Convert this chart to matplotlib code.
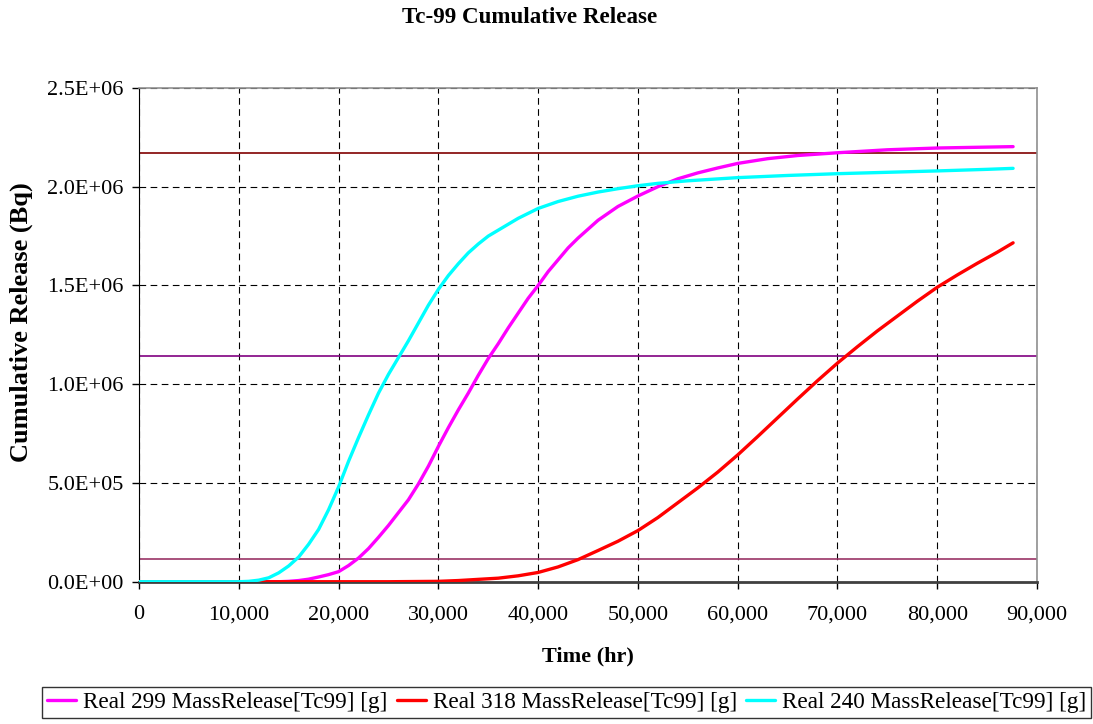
import matplotlib.pyplot as plt
from matplotlib.ticker import FuncFormatter, MultipleLocator

plt.rcParams['font.family'] = ['Liberation Serif', 'DejaVu Serif']

# Real 240 (cyan)
t_240 = [0, 10000, 11000, 12000, 13000, 14000, 15000, 16000, 17000, 18000,
         19000, 20000, 21000, 22000, 23000, 24000, 25000, 26000, 27000, 28000,
         29000, 30000, 31000, 32000, 33000, 34000, 35000, 36000, 38000, 40000,
         42000, 44000, 46000, 48000, 50000, 52000, 55000, 60000, 65000, 70000,
         75000, 80000, 85000, 87600]
r_240 = [0, 0, 0.002, 0.008, 0.02, 0.045, 0.08, 0.125, 0.19, 0.265,
         0.365, 0.48, 0.61, 0.73, 0.845, 0.955, 1.05, 1.135, 1.22, 1.31,
         1.40, 1.48, 1.55, 1.61, 1.665, 1.71, 1.75, 1.78, 1.84, 1.89,
         1.925, 1.952, 1.973, 1.99, 2.005, 2.017, 2.03, 2.046, 2.057, 2.066,
         2.073, 2.08, 2.088, 2.093]

# Real 299 (magenta)
t_299 = [0, 14000, 15000, 16000, 17000, 18000, 19000, 20000, 21000, 22000,
         23000, 24000, 25000, 26000, 27000, 28000, 29000, 30000, 31000, 32000,
         33000, 34000, 35000, 36000, 37000, 38000, 39000, 40000, 41000, 42000,
         43000, 44000, 46000, 48000, 50000, 52000, 54000, 56000, 58000, 60000,
         63000, 66000, 70000, 75000, 80000, 87600]
r_299 = [0, 0, 0.002, 0.006, 0.013, 0.024, 0.036, 0.051, 0.082, 0.12,
         0.168, 0.225, 0.285, 0.35, 0.415, 0.495, 0.585, 0.685, 0.78, 0.87,
         0.955, 1.045, 1.13, 1.205, 1.285, 1.36, 1.435, 1.50, 1.57, 1.63,
         1.69, 1.74, 1.83, 1.90, 1.953, 2.00, 2.04, 2.07, 2.095, 2.118,
         2.142, 2.158, 2.172, 2.187, 2.196, 2.203]

# Real 318 (red)
t_318 = [0, 25000, 30000, 32000, 34000, 36000, 38000, 40000, 42000, 44000,
         46000, 48000, 50000, 52000, 54000, 56000, 58000, 60000, 62000, 64000,
         66000, 68000, 70000, 72000, 74000, 76000, 78000, 80000, 82000, 84000,
         86000, 87600]
r_318 = [0, 0, 0.002, 0.006, 0.012, 0.018, 0.03, 0.047, 0.075, 0.112,
         0.158, 0.205, 0.259, 0.325, 0.4, 0.475, 0.555, 0.642, 0.735, 0.83,
         0.925, 1.018, 1.107, 1.19, 1.27, 1.345, 1.42, 1.491, 1.553, 1.612,
         1.668, 1.716]

# reference levels (millions of Bq)
ref_levels = [2.172, 1.141, 0.1135]
ref_colors = ['#800000', '#800080', '#993366']

series = [
    ('Real 299 MassRelease[Tc99] [g]', t_299, r_299, '#FF00FF'),
    ('Real 318 MassRelease[Tc99] [g]', t_318, r_318, '#FF0000'),
    ('Real 240 MassRelease[Tc99] [g]', t_240, r_240, '#00FFFF'),
]

fig = plt.figure(figsize=(10.93, 7.24), dpi=100)
ax = fig.add_axes([0.1272, 0.1965, 0.8216, 0.682])

for lvl, clr in zip(ref_levels, ref_colors):
    ax.axhline(lvl * 1e6, color=clr, lw=1.2, zorder=2)

for label, t, r, clr in series:
    ax.plot(t, [v * 1e6 for v in r], color=clr, lw=2.4, label=label,
            solid_capstyle='round', solid_joinstyle='round', zorder=3)

ax.set_xlim(0, 90000)
ax.set_ylim(0, 2.5e6)
ax.xaxis.set_major_locator(MultipleLocator(10000))
ax.yaxis.set_major_locator(MultipleLocator(5e5))
ax.xaxis.set_major_formatter(FuncFormatter(lambda v, p: f"{v:,.0f}"))
ax.yaxis.set_major_formatter(FuncFormatter(lambda v, p: f"{v:.1E}"))
ax.tick_params(labelsize=16, direction='out', length=5, width=1)
ax.tick_params(axis='x', pad=12)
ax.tick_params(axis='y', pad=6)
ax.grid(True, color='black', lw=0.8, linestyle=(0, (6, 4)), zorder=1)

ax.spines['left'].set_color('black')
ax.spines['bottom'].set_color('#404040')
ax.spines['bottom'].set_linewidth(2)
for s in ('top', 'right'):
    ax.spines[s].set_color('#909090')
    ax.spines[s].set_linewidth(1.2)

ax.set_xlabel('Time (hr)', fontsize=16, fontweight='bold')
ax.xaxis.set_label_coords(0.4995, -0.131)
ax.set_ylabel('Cumulative Release (Bq)', fontsize=19, fontweight='bold')
ax.yaxis.set_label_coords(-0.118, 0.526)
fig.suptitle('Tc-99 Cumulative Release', fontsize=16.6, fontweight='bold',
             x=0.485, y=0.99)

leg = fig.legend(loc='center', bbox_to_anchor=(0.5185, 0.03), ncol=3,
                 fontsize=16.7, frameon=True, fancybox=False, edgecolor='black',
                 handlelength=1.25, handletextpad=0.3, columnspacing=0.4,
                 borderpad=0.2, borderaxespad=0)
leg.get_frame().set_linewidth(1)

fig.savefig('out.png', dpi=100)
